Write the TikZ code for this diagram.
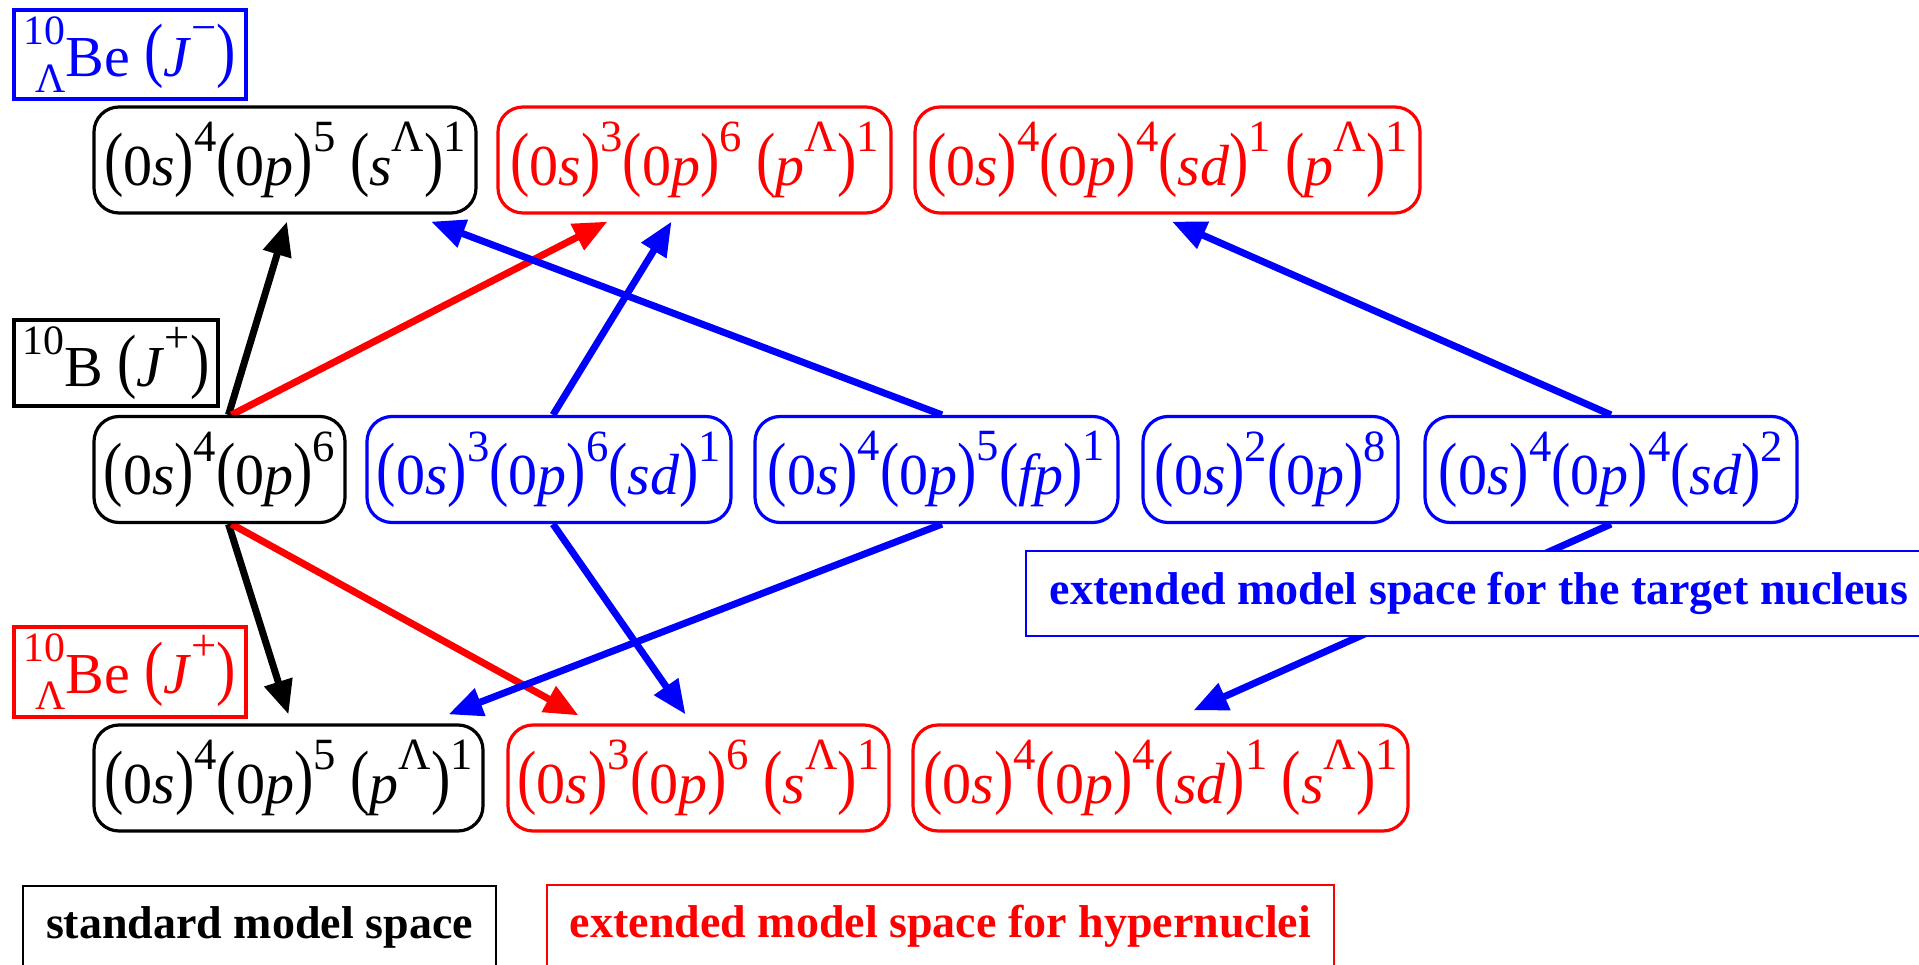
\documentclass[tikz,border=0pt]{standalone}
\usepackage{graphicx}
\usepackage{fontspec}
\setmainfont{Liberation Serif}
\usetikzlibrary{arrows.meta,calc}
\pgfdeclarelayer{bg}
\pgfsetlayers{bg,main}
\newcommand\Lp{\raisebox{0.04em}{\scalebox{1}[1.23]{(}}}
\newcommand\Rp{\raisebox{0.04em}{\scalebox{1}[1.23]{)}}}
\newcommand\Su[1]{\raisebox{0.58em}{\scalebox{0.77}{#1}}}
\newcommand\Mi[1]{\textit{#1}}
\newcommand\Pre[2]{\ooalign{\hfil\raisebox{0.55em}{\scalebox{0.72}{#1}}\cr\hfil\raisebox{-0.28em}{\scalebox{0.72}{#2}}\cr}}
\begin{document}
\begin{tikzpicture}[x=1pt,y=-1pt,
  conf/.style={draw, rounded corners=25pt, line width=3.2pt, minimum height=106pt, inner sep=0pt, fill=white, font=\fontsize{58}{64}\selectfont},
  redc/.style={draw=red, text=red},
  bluec/.style={draw=blue, text=blue},
  lab/.style={draw, line width=3.2pt, inner sep=0pt, fill=white, font=\fontsize{58}{64}\selectfont},
  legend/.style={draw, line width=2.5pt, inner sep=0pt, fill=white, font=\bfseries\fontsize{46}{50}\selectfont},
  arr/.style={line width=7pt, -{Triangle[length=34pt,width=28pt]}}
]
\useasboundingbox (0,0) rectangle (1919,965);
\clip (0,0) rectangle (1919,965);

% top row
\node[conf, minimum width=382pt] (A1) at (285,160) {\Lp0\Mi{s}\Rp\Su{4}\Lp0\Mi{p}\Rp\Su{5} \Lp\Mi{s}\Su{Λ}\Rp\Su{1}};
\node[conf, redc, minimum width=393pt] (A2) at (694.5,160) {\Lp0\Mi{s}\Rp\Su{3}\Lp0\Mi{p}\Rp\Su{6} \Lp\Mi{p}\Su{Λ}\Rp\Su{1}};
\node[conf, redc, minimum width=505pt] (A3) at (1167.5,160) {\Lp0\Mi{s}\Rp\Su{4}\Lp0\Mi{p}\Rp\Su{4}\Lp\Mi{sd}\Rp\Su{1} \Lp\Mi{p}\Su{Λ}\Rp\Su{1}};
% middle row
\node[conf, minimum width=251pt] (B1) at (219.5,469.5) {\Lp0\Mi{s}\Rp\Su{4}\Lp0\Mi{p}\Rp\Su{6}};
\node[conf, bluec, minimum width=364pt] (B2) at (549,469.5) {\Lp0\Mi{s}\Rp\Su{3}\Lp0\Mi{p}\Rp\Su{6}\Lp\Mi{sd}\Rp\Su{1}};
\node[conf, bluec, minimum width=363pt] (B3) at (936.5,469.5) {\Lp0\Mi{s}\Rp\Su{4}\Lp0\Mi{p}\Rp\Su{5}\Lp\Mi{fp}\Rp\Su{1}};
\node[conf, bluec, minimum width=255pt] (B4) at (1270.5,469.5) {\Lp0\Mi{s}\Rp\Su{2}\Lp0\Mi{p}\Rp\Su{8}};
\node[conf, bluec, minimum width=372pt] (B5) at (1611,469.5) {\Lp0\Mi{s}\Rp\Su{4}\Lp0\Mi{p}\Rp\Su{4}\Lp\Mi{sd}\Rp\Su{2}};
% bottom row
\node[conf, minimum width=389pt] (C1) at (288.5,778) {\Lp0\Mi{s}\Rp\Su{4}\Lp0\Mi{p}\Rp\Su{5} \Lp\Mi{p}\Su{Λ}\Rp\Su{1}};
\node[conf, redc, minimum width=381pt] (C2) at (698.5,778) {\Lp0\Mi{s}\Rp\Su{3}\Lp0\Mi{p}\Rp\Su{6} \Lp\Mi{s}\Su{Λ}\Rp\Su{1}};
\node[conf, redc, minimum width=495pt] (C3) at (1160.5,778) {\Lp0\Mi{s}\Rp\Su{4}\Lp0\Mi{p}\Rp\Su{4}\Lp\Mi{sd}\Rp\Su{1} \Lp\Mi{s}\Su{Λ}\Rp\Su{1}};

% labels
\node[lab, bluec, minimum width=232pt, minimum height=89pt] (L1) at (130,54.5) {\Pre{10}{Λ}Be \Lp\Mi{J}\Su{−}\Rp};
\node[lab, minimum width=204pt, minimum height=86pt] (L2) at (116,363) {\raisebox{0.55em}{\scalebox{0.72}{10}}B \Lp\Mi{J}\Su{+}\Rp};
\node[lab, redc, minimum width=232pt, minimum height=90pt] (L3) at (130,672) {\Pre{10}{Λ}Be \Lp\Mi{J}\Su{+}\Rp};

% target nucleus box
\node[legend, bluec, line width=2pt, minimum width=906pt, minimum height=85pt, anchor=west] (T) at (1025,593.5) {extended model space for the target nucleus};

% legend
\node[legend, minimum width=473pt, minimum height=82pt] (G1) at (259.5,927) {standard model space};
\node[legend, redc, minimum width=787pt, minimum height=82pt] (G2) at (940.5,926) {extended model space for hypernuclei};

\begin{pgfonlayer}{bg}
\draw[arr] ($(B1.north)+(9,0)$) -- ($(A1.south)+(2,7)$);
\draw[arr] ($(B1.south)+(9,0)$) -- ($(C1.north)+(0,-9)$);
\draw[arr, red] ($(B1.north)+(12,0)$) -- ($(A2.south)+(-87,7)$);
\draw[arr, red] ($(B1.south)+(12,0)$) -- ($(C2.north)+(-120,-8)$);
\draw[arr, blue] ($(B2.north)+(4,0)$) -- ($(A2.south)+(-23,7)$);
\draw[arr, blue] ($(B2.south)+(4,0)$) -- ($(C2.north)+(-13,-9)$);
\draw[arr, blue] ($(B3.north)+(5.5,0)$) -- ($(A1.south)+(146,7)$);
\draw[arr, blue] ($(B3.south)+(5.5,0)$) -- ($(C1.north)+(160,-9)$);
\draw[arr, blue] (B5.north) -- ($(A3.south)+(4.5,7)$);
\draw[arr, blue] (B5.south) -- ($(C3.north)+(33,-13)$);
\end{pgfonlayer}
\end{tikzpicture}
\end{document}
